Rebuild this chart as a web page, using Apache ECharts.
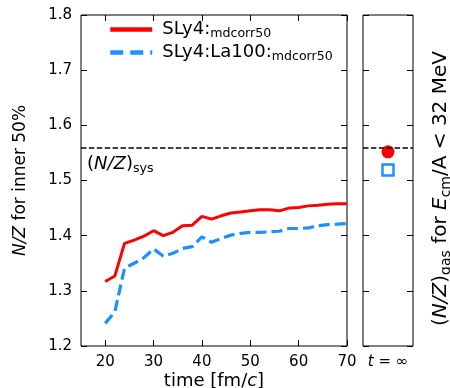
<!DOCTYPE html>
<html>
<head>
<meta charset="utf-8">
<script src="https://cdn.jsdelivr.net/npm/echarts@6/dist/echarts.min.js"></script>
<style>
  html, body { margin: 0; padding: 0; background: #fff; }
  #chart { width: 450px; height: 388px; }
</style>
</head>
<body>
<div id="chart"></div>
<script>
// Time axis samples (fm/c)
const times = [20, 22, 24, 26, 28, 30, 32, 34, 36, 38, 40, 42, 44, 46, 48, 50,
               52, 54, 56, 58, 60, 62, 64, 66, 68, 70];
// N/Z of the inner 50% for each parameter set
const sly4 = [1.317, 1.327, 1.386, 1.392, 1.399, 1.409, 1.400, 1.406, 1.418, 1.419,
              1.435, 1.430, 1.436, 1.441, 1.443, 1.445, 1.447, 1.447, 1.445, 1.450,
              1.451, 1.454, 1.455, 1.457, 1.458, 1.458];
const sly4La100 = [1.241, 1.262, 1.341, 1.350, 1.360, 1.376, 1.363, 1.368, 1.377, 1.380,
                   1.398, 1.388, 1.395, 1.401, 1.404, 1.406, 1.406, 1.407, 1.408, 1.413,
                   1.413, 1.414, 1.418, 1.420, 1.421, 1.422];
// Asymptotic gas N/Z (t = infinity)
const gasSly4 = [1.552];
const gasSly4La100 = [1.519];
// System N/Z reference level
const nzSys = 1.56;
// Tick labels
const xTicks = [20, 30, 40, 50, 60, 70];
const yTicks = [1.2, 1.3, 1.4, 1.5, 1.6, 1.7, 1.8];
const infCategory = ['t = ∞'];

const FONT = 'DejaVu Sans';
const RED = '#ff0000';
const BLUE = '#1e90ff';

const chart = echarts.init(document.getElementById('chart'), null, { renderer: 'canvas' });

const tickStyle = { show: true, inside: true, length: 6, lineStyle: { color: '#000', width: 1 } };
const noLabel = { show: false };

const option = {
  animation: false,
  backgroundColor: '#fff',
  textStyle: { fontFamily: FONT },
  grid: [
    { left: 81, top: 15, width: 266, height: 331, show: true, borderColor: '#000', borderWidth: 1,
      backgroundColor: 'transparent', containLabel: false, outerBoundsMode: 'none' },
    { left: 363, top: 15, width: 50, height: 331, show: true, borderColor: '#000', borderWidth: 1,
      backgroundColor: 'transparent', containLabel: false, outerBoundsMode: 'none' }
  ],
  legend: {
    left: 103, top: 14, orient: 'vertical', itemWidth: 42, itemHeight: 1, itemGap: 2,
    data: [
      { name: 'SLy4', lineStyle: { width: 4.5 } },
      { name: 'SLy4:La100', lineStyle: { width: 4.5, type: [13, 7] } }
    ],
    formatter: function (name) {
      return '{a|' + name + ':}{s|mdcorr50}';
    },
    textStyle: {
      rich: {
        a: { fontFamily: FONT, fontSize: 18, color: '#000', lineHeight: 21, padding: [0, 0, 0, 5] },
        s: { fontFamily: FONT, fontSize: 12.6, color: '#000', lineHeight: 21, verticalAlign: 'bottom', padding: [8, 0, 0, 0] }
      }
    }
  },
  xAxis: [
    {
      gridIndex: 0, type: 'value', min: 15, max: 70, position: 'bottom',
      axisLine: { show: false }, splitLine: { show: false },
      axisTick: Object.assign({ customValues: xTicks }, tickStyle),
      axisLabel: { customValues: xTicks, fontFamily: FONT, fontSize: 15, color: '#000', margin: 9 },
      name: '{n|time [fm/}{i|c}{n|]}', nameLocation: 'middle', nameGap: 26, nameMoveOverlap: false,
      nameTextStyle: { rich: {
        n: { fontFamily: FONT, fontSize: 18, color: '#000' },
        i: { fontFamily: FONT, fontSize: 18, fontStyle: 'italic', color: '#000' }
      } }
    },
    {
      gridIndex: 0, type: 'value', min: 15, max: 70, position: 'top',
      axisLine: { show: false }, splitLine: { show: false },
      axisTick: Object.assign({ customValues: xTicks }, tickStyle),
      axisLabel: noLabel
    },
    {
      gridIndex: 1, type: 'category', data: infCategory, position: 'bottom',
      axisLine: { show: false }, splitLine: { show: false }, axisTick: { show: false },
      axisLabel: {
        margin: 9,
        formatter: function () { return '{i|t}{n| = ∞}'; },
        rich: {
          i: { fontFamily: FONT, fontSize: 15, fontStyle: 'italic', color: '#000' },
          n: { fontFamily: FONT, fontSize: 15, color: '#000' }
        }
      }
    }
  ],
  yAxis: [
    {
      gridIndex: 0, type: 'value', min: 1.2, max: 1.8, position: 'left',
      axisLine: { show: false }, splitLine: { show: false },
      axisTick: Object.assign({ customValues: yTicks }, tickStyle),
      axisLabel: { customValues: yTicks, fontFamily: FONT, fontSize: 15, color: '#000', margin: 9,
                   formatter: function (v) { return v.toFixed(1); } },
      name: '{i|N/Z}{n| for inner 50%}', nameLocation: 'middle', nameGap: 52, nameRotate: 90,
      nameTextStyle: { rich: {
        n: { fontFamily: FONT, fontSize: 17, color: '#000' },
        i: { fontFamily: FONT, fontSize: 17, fontStyle: 'italic', color: '#000' }
      } }
    },
    {
      gridIndex: 0, type: 'value', min: 1.2, max: 1.8, position: 'right',
      axisLine: { show: false }, splitLine: { show: false },
      axisTick: Object.assign({ customValues: yTicks }, tickStyle),
      axisLabel: noLabel
    },
    {
      gridIndex: 1, type: 'value', min: 1.2, max: 1.8, position: 'left',
      axisLine: { show: false }, splitLine: { show: false },
      axisTick: Object.assign({ customValues: yTicks }, tickStyle),
      axisLabel: noLabel
    },
    {
      gridIndex: 1, type: 'value', min: 1.2, max: 1.8, position: 'right',
      axisLine: { show: false }, splitLine: { show: false },
      axisTick: Object.assign({ customValues: yTicks }, tickStyle),
      axisLabel: noLabel,
      name: '{n|(}{i|N/Z}{n|)}{s|gas}{n| for }{i|E}{s|cm}{n|/A < 32 MeV}',
      nameLocation: 'middle', nameGap: 15, nameRotate: 90,
      nameTextStyle: {
        padding: [0, 16, 0, 0],
        rich: {
          n: { fontFamily: FONT, fontSize: 20, color: '#000', lineHeight: 25 },
          i: { fontFamily: FONT, fontSize: 20, fontStyle: 'italic', color: '#000', lineHeight: 25 },
          s: { fontFamily: FONT, fontSize: 14, color: '#000', lineHeight: 14, verticalAlign: 'bottom' }
        }
      }
    }
  ],
  series: [
    {
      name: 'SLy4', type: 'line', xAxisIndex: 0, yAxisIndex: 0,
      data: times.map((t, i) => [t, sly4[i]]),
      showSymbol: false, symbol: 'none', color: RED,
      lineStyle: { color: RED, width: 3 },
      markLine: {
        silent: true, symbol: 'none',
        lineStyle: { color: '#000', type: [5.5, 2.4], width: 1.5 },
        label: {
          show: true, position: 'insideStartBottom', distance: [6, 6],
          formatter: '{n|(}{i|N/Z}{n|)}{s|sys}',
          rich: {
            n: { fontFamily: FONT, fontSize: 18, color: '#000', lineHeight: 22 },
            i: { fontFamily: FONT, fontSize: 18, fontStyle: 'italic', color: '#000', lineHeight: 22 },
            s: { fontFamily: FONT, fontSize: 12.6, color: '#000', lineHeight: 12, verticalAlign: 'bottom' }
          }
        },
        data: [{ yAxis: nzSys }]
      },
      z: 3
    },
    {
      name: 'SLy4:La100', type: 'line', xAxisIndex: 0, yAxisIndex: 0,
      data: times.map((t, i) => [t, sly4La100[i]]),
      showSymbol: false, symbol: 'none', color: BLUE,
      lineStyle: { color: BLUE, width: 3.2, type: [11, 5] },
      z: 2
    },
    {
      name: 'gasSLy4', type: 'scatter', xAxisIndex: 2, yAxisIndex: 2,
      data: gasSly4.map(v => [infCategory[0], v]),
      symbol: 'circle', symbolSize: 13,
      itemStyle: { color: RED, opacity: 1 },
      markLine: {
        silent: true, symbol: 'none',
        lineStyle: { color: '#000', type: [5.5, 2.4], width: 1.5 },
        label: { show: false },
        data: [{ yAxis: nzSys }]
      },
      z: 3
    },
    {
      name: 'gasSLy4La100', type: 'scatter', xAxisIndex: 2, yAxisIndex: 2,
      data: gasSly4La100.map(v => [infCategory[0], v]),
      symbol: 'rect', symbolSize: 11,
      itemStyle: { color: '#fff', borderColor: BLUE, borderWidth: 2.5, opacity: 1 },
      z: 3
    }
  ]
};

chart.setOption(option);
</script>
</body>
</html>
